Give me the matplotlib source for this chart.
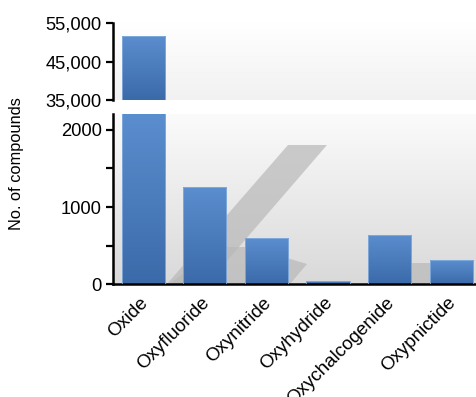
import numpy as np
import matplotlib
matplotlib.use("Agg")
import matplotlib.pyplot as plt
from matplotlib.patches import Polygon
from matplotlib.colors import LinearSegmentedColormap
from matplotlib.transforms import ScaledTranslation

categories = ["Oxide", "Oxyfluoride", "Oxynitride", "Oxyhydride", "Oxychalcogenide", "Oxypnictide"]
counts = [51800, 1260, 595, 45, 640, 310]
top_ticks = [35000, 45000, 55000]
top_tick_labels = ["35,000", "45,000", "55,000"]
low_ticks = [0, 500, 1000, 1500, 2000]
low_tick_labels = ["0", "", "1000", "", "2000"]

plt.rcParams['font.family'] = ['Liberation Sans', 'DejaVu Sans']

W, H = 477, 397
fig = plt.figure(figsize=(W / 100, H / 100), dpi=100)
fig.patch.set_facecolor('white')

def fx(px):
    return px / W

def fy(py):
    return 1 - py / H

left = fx(113)
width = 1 - left
ax_top = fig.add_axes([left, fy(100), width, (100 - 23.3) / H])
ax_low = fig.add_axes([left, fy(284.3), width, (284.3 - 114.3) / H])

bar_cmap = LinearSegmentedColormap.from_list("bar", ["#3b6aa9", "#5b8ecf"])
bg_low = LinearSegmentedColormap.from_list("bgl", ["#d9d9d9", "#fbfbfb"])
bg_top = LinearSegmentedColormap.from_list("bgt", ["#f1f1f1", "#ffffff"])

x = np.arange(len(categories))
bw = 0.70
xlim = (-0.49, 5.42)

grad = np.linspace(0, 1, 256).reshape(-1, 1)
for ax, ylim, bgc in ((ax_top, (35000, 55000), bg_top), (ax_low, (0, 2200), bg_low)):
    ax.set_facecolor('none')
    ax.imshow(grad, extent=[0, 1, 0, 1], transform=ax.transAxes, cmap=bgc,
              aspect='auto', origin='lower', zorder=0)
    bars = ax.bar(x, counts, width=bw, color='none', edgecolor='#86addd',
                  linewidth=0.6, zorder=3)
    for b in bars:
        x0 = b.get_x()
        x1 = x0 + b.get_width()
        y1 = min(b.get_height(), ylim[1])
        y0 = ylim[0]
        if y1 <= y0:
            continue
        im = ax.imshow(grad, extent=[x0, x1, y0, y1], cmap=bar_cmap, aspect='auto',
                       origin='lower', zorder=2)
        im.set_clip_path(b)
    ax.set_xlim(*xlim)
    ax.set_ylim(*ylim)
    for s in ('top', 'right'):
        ax.spines[s].set_visible(False)
    ax.spines['left'].set_linewidth(1.8)
    ax.tick_params(axis='y', direction='out', length=5, width=1.6, labelsize=13.2, pad=3)

# decorative soft shadows in the lower panel
def axp(px, py):
    return ((px - 113) / 364, (284.3 - py) / 170)

shadow_shapes = [
    [axp(288, 145), axp(327, 145), axp(207, 284), axp(167, 284)],
    [axp(170, 284), axp(215, 247), axp(250, 247), axp(307, 264), axp(290, 284)],
    [axp(395, 284), axp(412, 263), axp(430, 263), axp(430, 284)],
]
for pts in shadow_shapes:
    ax_low.add_patch(Polygon(pts, closed=True, transform=ax_low.transAxes,
                             facecolor='#b8b8b8', edgecolor='none', alpha=0.7, zorder=1))

ax_top.spines['bottom'].set_visible(False)
ax_top.set_xticks([])
ax_top.set_yticks(top_ticks)
ax_top.set_yticklabels(top_tick_labels)

ax_low.spines['bottom'].set_linewidth(1.8)
ax_low.set_yticks(low_ticks)
ax_low.set_yticklabels(low_tick_labels)
ax_low.set_xticks(x)
ax_low.set_xticklabels(categories, rotation=45, ha='right', rotation_mode='anchor', fontsize=13.5)
ax_low.tick_params(axis='x', length=0, pad=7)
shift = ScaledTranslation(-4 / 100, 0, fig.dpi_scale_trans)
for lab in ax_low.get_xticklabels():
    lab.set_transform(lab.get_transform() + shift)

fig.text(fx(17), fy(164), "No. of compounds", rotation=90, ha='center', va='center', fontsize=11.8)

fig.savefig("out.png", dpi=100)
